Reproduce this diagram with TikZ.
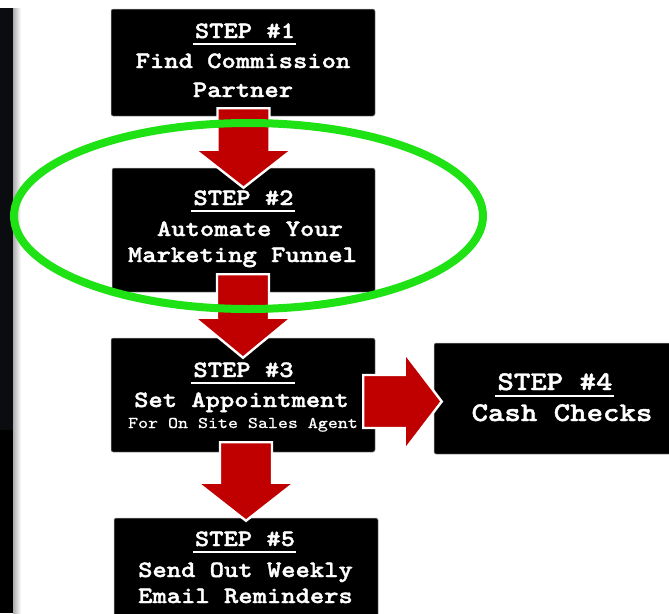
\documentclass[tikz,border=0pt]{standalone}
\usepackage{fontspec}
\newfontfamily\courb{lmmonolt10-bold.otf}[FakeBold=1.6, FakeStretch=1.16]
\newfontfamily\courr{lmmono10-regular.otf}[FakeBold=0.6, FakeStretch=1.16]
\usetikzlibrary{calc,shapes.geometric}
\definecolor{arrowred}{RGB}{192,0,0}
\definecolor{hlgreen}{RGB}{30,226,20}
\definecolor{stripdark}{RGB}{10,12,16}
\definecolor{boxedge}{RGB}{170,170,170}
\tikzset{
  stepbox/.style={fill=black, draw=boxedge, line width=0.5pt, rounded corners=2pt, inner sep=0pt},
  steptext/.style={text=white, inner sep=0pt, anchor=base, font=\courb\fontsize{23.5}{28}\selectfont},
  bigtext/.style={steptext, font=\courb\fontsize{27}{32}\selectfont},
  smalltext/.style={steptext, font=\courr\fontsize{16.4}{20}\selectfont},
  ulline/.style={draw=white, line width=2pt},
  blockarrow/.style={fill=arrowred, draw=white, line width=2.4pt, line join=miter},
  highlight/.style={draw=hlgreen, line width=8pt, ellipse, inner sep=0pt}
}
\newcommand\blockdown[5]{%
  \draw[blockarrow] let \p1=($(#1.south)+(0,#3)$), \p2=($(#2.north)+(0,#4)$) in
    (\x2-26pt,\y1) -- (\x2+26pt,\y1) -- (\x2+26pt,\y2+#5) -- (\x2+48.5pt,\y2+#5)
    -- (\x2,\y2) -- (\x2-48.5pt,\y2+#5) -- (\x2-26pt,\y2+#5) -- cycle;}
\newcommand\stepunder[1]{%
  \draw[ulline] ([xshift=-2pt,yshift=-6pt]#1.base west) -- ([xshift=1pt,yshift=-6pt]#1.base east);}
\begin{document}
\begin{tikzpicture}[x=1pt,y=-1pt]
\useasboundingbox (0,0) rectangle (669,613);
\fill[white] (0,0) rectangle (669,613);
% left dark strip
\fill[stripdark] (0,8) rectangle (13,430);
\fill[black] (0,430) rectangle (13,613);
\shade[left color=gray!65, right color=white] (13,8) rectangle (21,613);

% boxes
\node[stepbox, minimum width=264pt, minimum height=107pt] (b1) at (243,62.5) {};
\node[stepbox, minimum width=263pt, minimum height=124pt] (b2) at (243.5,230) {};
\node[stepbox, minimum width=264pt, minimum height=114pt] (b3) at (243,395) {};
\node[stepbox, minimum width=238pt, minimum height=111pt] (b4) at (553,398.5) {};
\node[stepbox, minimum width=264pt, minimum height=102pt] (b5) at (246,569) {};

% texts
\node[steptext] (t1a) at (245,38) {STEP \#1};
\node[steptext] (t1b) at (243,68) {Find Commission};
\node[steptext] (t1c) at (243,97) {Partner};
\stepunder{t1a}

\node[steptext] (t2a) at (243.5,205) {STEP \#2};
\node[steptext] (t2b) at (250,236) {Automate Your};
\node[steptext] (t2c) at (242.5,262) {Marketing Funnel};
\stepunder{t2a}

\node[steptext] (t3a) at (243.5,377) {STEP \#3};
\node[steptext] (t3b) at (241.5,407) {Set Appointment};
\node[smalltext] (t3c) at (243,428) {For On Site Sales Agent};
\stepunder{t3a}

\node[bigtext] (t4a) at (555,390) {STEP \#4};
\node[bigtext] (t4b) at (562,421) {Cash Checks};
\stepunder{t4a}

\node[steptext] (t5a) at (245,546) {STEP \#5};
\node[steptext] (t5b) at (245.5,577) {Send Out Weekly};
\node[steptext] (t5c) at (245.5,603) {Email Reminders};
\stepunder{t5a}

% block arrows
\blockdown{b1}{b2}{-8}{20}{38pt}
\blockdown{b2}{b3}{-18}{20}{40pt}
\blockdown{b3}{b5}{-10}{3}{38pt}
\draw[blockarrow] let \p1=($(b3.east)+(-12,0)$), \p2=($(b4.west)+(8,3)$) in
  (\x1,\y2+26.5pt) -- (\x2-37pt,\y2+26.5pt) -- (\x2-37pt,\y2+48.5pt) -- (\x2,\y2)
  -- (\x2-37pt,\y2-48.5pt) -- (\x2-37pt,\y2-26.5pt) -- (\x1,\y2-26.5pt) -- cycle;

% green highlight
\node[highlight, minimum width=469pt, minimum height=186pt] (hl) at ($(b2.center)+(5,-14)$) {};
\end{tikzpicture}
\end{document}
